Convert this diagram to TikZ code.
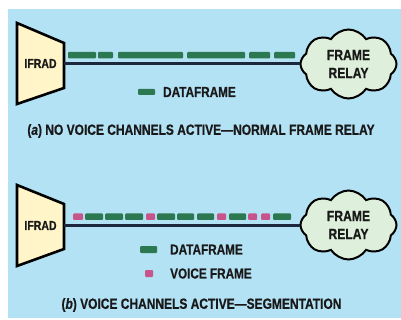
\documentclass[tikz,border=0pt]{standalone}
\usepackage{fontspec}
\usetikzlibrary{shapes.symbols}
\newfontfamily\condsans[FakeStretch=0.81, FakeBold=0.6]{Liberation Sans}
\definecolor{panelblue}{RGB}{180,226,245}
\definecolor{framegreen}{RGB}{44,120,80}
\definecolor{voicepink}{RGB}{200,84,140}
\definecolor{radfill}{RGB}{255,245,200}
\definecolor{cloudfill}{RGB}{222,240,220}
\definecolor{linkline}{RGB}{28,38,60}
\definecolor{inktext}{RGB}{25,25,25}
\tikzset{
  radbody/.style={draw=black, line width=2.6pt, fill=radfill, line join=miter},
  radlabel/.style={inner sep=0pt, minimum width=47pt, minimum height=46pt,
    font=\condsans\bfseries\fontsize{13}{13}\selectfont, text=inktext},
  netcloud/.style={cloud, cloud puffs=8, cloud puff arc=115, aspect=1.45,
    draw=black, line width=2pt, fill=cloudfill, inner sep=0pt,
    minimum width=96pt, minimum height=69pt, align=center,
    font=\condsans\bfseries\fontsize{15}{18}\selectfont, text=inktext},
  link/.style={draw=linkline, line width=3.2pt},
  dataframe/.style={fill=framegreen, rounded corners=1pt},
  voiceframe/.style={fill=voicepink, rounded corners=1pt},
  legendtext/.style={anchor=west, inner sep=0pt,
    font=\condsans\bfseries\fontsize{14.5}{15}\selectfont, text=inktext},
  caption/.style={inner sep=0pt,
    font=\condsans\bfseries\fontsize{14.8}{16}\selectfont, text=inktext},
}
\begin{document}
\begin{tikzpicture}[x=1pt, y=-1pt]
  \useasboundingbox (0,0) rectangle (401,320);
  \fill[white] (0,0) rectangle (401,320);
  \fill[panelblue] (8,9) rectangle (401,318);

  % ---------- (a) normal frame relay ----------
  \draw[radbody] (17,23) -- (64,43) -- (64,88) -- (17,104) -- cycle;
  \node[radlabel] (ifradA) at (40.5,63.5) {IFRAD};
  \node[netcloud] (cloudA) at (348.5,64) {FRAME\\RELAY};
  \draw[link] (ifradA.east) -- (ifradA.east -| cloudA.west);
  \foreach \xa/\xb in {68/96, 98/113, 118/183, 187/245, 249/270, 274/295}
    \fill[dataframe] (\xa,52) rectangle (\xb,58.5);
  \fill[dataframe] (138,89) rectangle (155,95);
  \node[legendtext] (legA) at (163,92) {DATAFRAME};
  \node[caption] (capA) at (201,131) {(\textit{a}) NO VOICE CHANNELS ACTIVE—NORMAL FRAME RELAY};

  % ---------- (b) segmentation with voice ----------
  \draw[radbody] (17,185) -- (64,204) -- (64,249) -- (17,266) -- cycle;
  \node[radlabel] (ifradB) at (40.5,225.5) {IFRAD};
  \node[netcloud] (cloudB) at (348.5,225) {FRAME\\RELAY};
  \draw[link] (ifradB.east) -- (ifradB.east -| cloudB.west);
  \foreach \xa/\xb in {85/103, 105/123, 125/143, 157/175, 177/194, 197/214, 229/246, 273/291}
    \fill[dataframe] (\xa,213.5) rectangle (\xb,220);
  \foreach \xa/\xb in {73/83, 146/155, 217/226, 248/257, 261/270}
    \fill[voiceframe] (\xa,213.5) rectangle (\xb,220);
  \fill[dataframe] (140,246) rectangle (157,253);
  \fill[voiceframe] (145,270) rectangle (153,277);
  \node[legendtext] (legB1) at (170,249.5) {DATAFRAME};
  \node[legendtext] (legB2) at (170,273.5) {VOICE FRAME};
  \node[caption] (capB) at (201.5,305) {(\textit{b}) VOICE CHANNELS ACTIVE—SEGMENTATION};
\end{tikzpicture}
\end{document}
